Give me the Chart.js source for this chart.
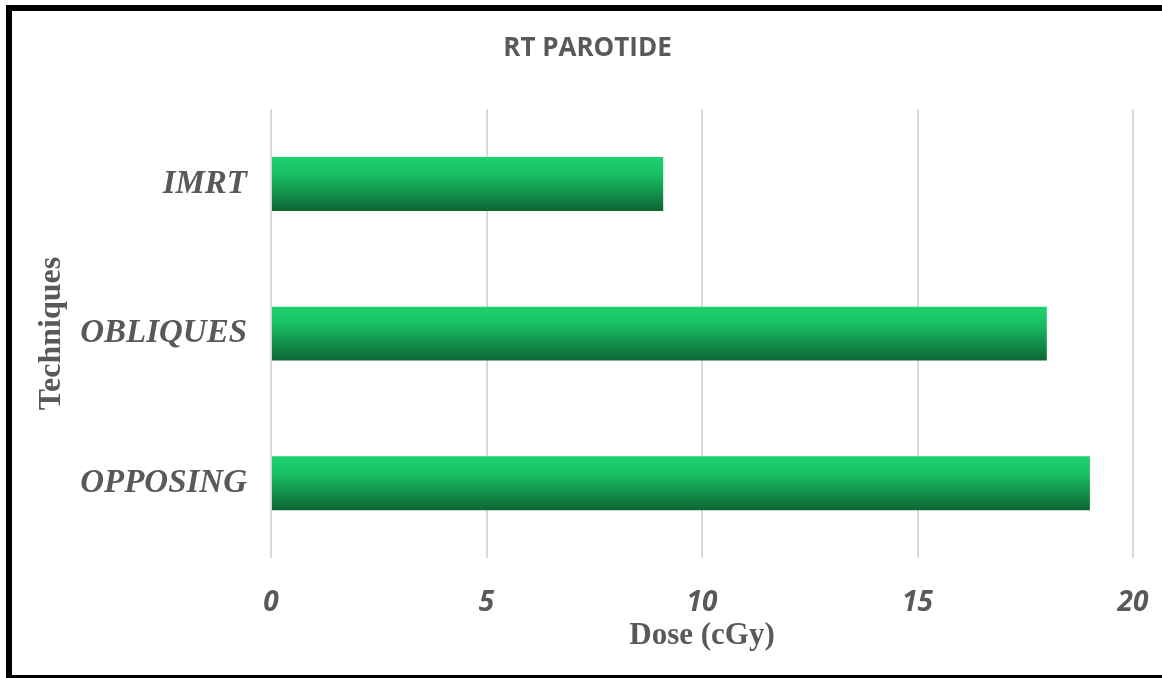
<!DOCTYPE html>
<html>
<head>
<meta charset="utf-8">
<script src="https://cdn.jsdelivr.net/npm/chart.js@4/dist/chart.umd.min.js"></script>
<style>
  html, body { margin: 0; padding: 0; background: #fff; overflow: hidden; }
  #wrap { position: relative; width: 1162px; height: 678px; }
  #chart { position: absolute; left: 0; top: 0; }
  #frame {
    position: absolute; left: 6px; top: 5px; width: 1200px; height: 676px;
    border: 6px solid #000; box-sizing: border-box; pointer-events: none;
  }
</style>
</head>
<body>
<div id="wrap">
  <canvas id="chart" width="1162" height="678"></canvas>
  <div id="frame"></div>
</div>
<script>
// Mean dose to the right parotid per irradiation technique
const techniques = ['IMRT', 'OBLIQUES', 'OPPOSING'];
const doseValues = [9.1, 18, 19];
const doseTicks = [0, 5, 10, 15, 20];

const TEXT = '#595959';
const BAR_FRACTION = 0.36;
const PAD_LEFT = 42;

function barGradient(ctx) {
  const chart = ctx.chart;
  if (!chart.chartArea || ctx.type !== 'data') return '#17b45d';
  const y = chart.scales.y;
  const center = y.getPixelForValue(ctx.dataIndex);
  const half = (y.height / chart.data.labels.length) * BAR_FRACTION / 2;
  const g = chart.ctx.createLinearGradient(0, center - half, 0, center + half);
  g.addColorStop(0, '#1dd16c');
  g.addColorStop(0.3, '#19c264');
  g.addColorStop(0.7, '#128d49');
  g.addColorStop(1, '#0b6733');
  return g;
}

new Chart(document.getElementById('chart'), {
  type: 'bar',
  data: {
    labels: techniques,
    datasets: [{
      data: doseValues,
      backgroundColor: barGradient,
      borderWidth: 0,
      categoryPercentage: 1,
      barPercentage: BAR_FRACTION
    }]
  },
  options: {
    indexAxis: 'y',
    responsive: false,
    animation: false,
    layout: { padding: { left: PAD_LEFT, right: 29, top: 0, bottom: 10 } },
    plugins: {
      legend: { display: false },
      tooltip: { enabled: false },
      title: {
        display: true,
        text: 'RT PAROTIDE',
        color: TEXT,
        font: { family: '"Open Sans", sans-serif', size: 26, weight: 'bold' },
        padding: { top: 33, bottom: 45 }
      }
    },
    scales: {
      x: {
        min: 0,
        max: 20,
        afterBuildTicks: (scale) => { scale.ticks = doseTicks.map(v => ({ value: v })); },
        afterFit: (scale) => {
          scale.height = 110;
          scale.paddingLeft = 0;
          scale.paddingRight = 0;
        },
        grid: { color: '#d9d9d9', lineWidth: 2, drawTicks: false },
        border: { display: false },
        ticks: {
          color: TEXT,
          padding: 28,
          font: { family: '"Open Sans", sans-serif', size: 28, weight: 'bold', style: 'italic' }
        },
        title: {
          display: true,
          text: 'Dose (cGy)',
          color: TEXT,
          padding: { top: 0, bottom: 13 },
          font: { family: '"Liberation Serif", "Times New Roman", serif', size: 31, weight: 'bold' }
        }
      },
      y: {
        afterFit: (scale) => { scale.width = 271 - PAD_LEFT; },
        grid: { display: false, drawTicks: false },
        border: { display: false },
        ticks: {
          color: TEXT,
          padding: 24,
          font: { family: '"Liberation Serif", "Times New Roman", serif', size: 33, weight: 'bold', style: 'italic' }
        },
        title: {
          display: true,
          text: 'Techniques',
          color: TEXT,
          padding: { top: -9, bottom: 0 },
          font: { family: '"Liberation Serif", "Times New Roman", serif', size: 32, weight: 'bold' }
        }
      }
    }
  }
});
</script>
</body>
</html>
